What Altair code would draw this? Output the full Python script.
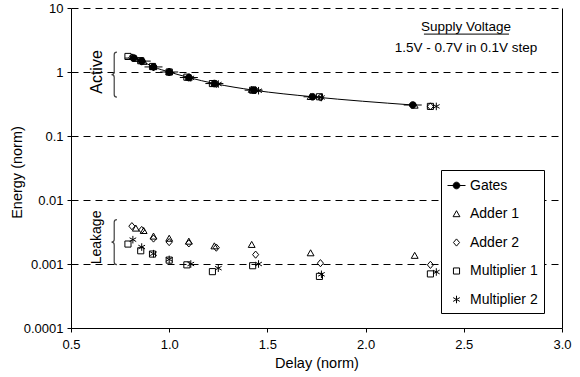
import altair as alt
import pandas as pd

FONT = "Liberation Sans"

series_names = ["Gates", "Adder 1", "Adder 2", "Multiplier 1", "Multiplier 2"]

gates_delay = [0.82, 0.86, 0.92, 1.00, 1.10, 1.23, 1.43, 1.73, 2.24]
gates_active = [1.65, 1.48, 1.20, 1.00, 0.82, 0.66, 0.52, 0.41, 0.305]

adder1_delay = [0.83, 0.87, 0.92, 1.00, 1.10, 1.23, 1.42, 1.72, 2.25]
adder1_active = [1.62, 1.45, 1.20, 1.00, 0.82, 0.66, 0.53, 0.41, 0.30]
adder1_leak = [0.0036, 0.0033, 0.0027, 0.0025, 0.00225, 0.0019, 0.0020, 0.00148, 0.00135]

adder2_delay = [0.81, 0.86, 0.92, 1.00, 1.10, 1.24, 1.44, 1.77, 2.33]
adder2_active = [1.68, 1.47, 1.20, 1.00, 0.82, 0.65, 0.52, 0.40, 0.29]
adder2_leak = [0.0039, 0.0034, 0.0025, 0.0022, 0.0021, 0.0018, 0.0014, 0.00103, 0.00097]

mult1_delay = [0.79, 0.855, 0.915, 1.00, 1.09, 1.22, 1.425, 1.765, 2.33]
mult1_active = [1.75, 1.50, 1.22, 1.00, 0.83, 0.66, 0.52, 0.41, 0.29]
mult1_leak = [0.00205, 0.00161, 0.00143, 0.00115, 0.00097, 0.00076, 0.00094, 0.00064, 0.00070]

mult2_delay = [0.815, 0.86, 0.92, 1.00, 1.11, 1.25, 1.455, 1.775, 2.36]
mult2_active = [1.68, 1.46, 1.19, 1.00, 0.81, 0.65, 0.51, 0.40, 0.29]
mult2_leak = [0.0024, 0.00184, 0.00145, 0.00118, 0.0010, 0.00086, 0.00100, 0.00069, 0.00075]

x_ticks = [0.5, 1.0, 1.5, 2.0, 2.5, 3.0]
y_ticks = [0.0001, 0.001, 0.01, 0.1, 1, 10]

# annotation texts
active_label = ["Active"]
leakage_label = ["Leakage"]
header_lines = ["Supply Voltage", "1.5V - 0.7V in 0.1V step"]

rows = []


def add(name, delays, active, leak=None):
    for i, d in enumerate(delays):
        rows.append({"series": name, "delay": d, "energy": active[i], "kind": "active"})
        if leak is not None:
            rows.append({"series": name, "delay": d, "energy": leak[i], "kind": "leakage"})


add("Gates", gates_delay, gates_active)
add("Adder 1", adder1_delay, adder1_active, adder1_leak)
add("Adder 2", adder2_delay, adder2_active, adder2_leak)
add("Multiplier 1", mult1_delay, mult1_active, mult1_leak)
add("Multiplier 2", mult2_delay, mult2_active, mult2_leak)
df = pd.DataFrame(rows)
gates_df = df[df["series"] == "Gates"]

shape_paths = [
    "M-1,0L1,0M0.37,0A0.37,0.37 0 1,1 -0.37,0A0.37,0.37 0 1,1 0.37,0Z",
    "M0,-0.37L0.38,0.3L-0.38,0.3Z",
    "M0,-0.4L0.34,0L0,0.4L-0.34,0Z",
    "M-0.34,-0.34L0.34,-0.34L0.34,0.34L-0.34,0.34Z",
    "M0,-0.42L0,0.42M-0.37,-0.21L0.37,0.21M-0.37,0.21L0.37,-0.21",
]
fill_colors = ["black", "transparent", "transparent", "transparent", "transparent"]
stroke_colors = ["black"] * 5

brace_path = "M0.12,-1Q0,-1 0,-0.88L0,-0.12Q0,0 -0.12,0Q0,0 0,0.12L0,0.88Q0,1 0.12,1"

brace_df = pd.DataFrame({"delay": [0.72, 0.72], "energy": [0.91, 0.0022]})
active_df = pd.DataFrame({"delay": [0.632], "energy": [1.0], "label": active_label})
leakage_df = pd.DataFrame({"delay": [0.632], "energy": [0.0026], "label": leakage_label})
header_df = pd.DataFrame({"delay": [2.511, 2.511], "energy": [5.04, 2.36], "label": header_lines})
underline_df = pd.DataFrame({"delay": [2.297], "delay2": [2.730], "energy": [3.91]})

x_scale = alt.Scale(domain=[0.5, 3.0], nice=False, zero=False)
y_scale = alt.Scale(type="log", domain=[0.0001, 10], nice=False)

x_axis = alt.Axis(
    values=x_ticks, format=".1f", title="Delay (norm)", grid=False,
    tickSize=4, tickColor="black", domainColor="black", labelColor="black",
    labelFont=FONT, labelFontSize=13, titleFont=FONT, titleFontSize=14.5,
    titleFontWeight="normal", titleColor="black", labelPadding=6, titlePadding=5,
    labelFlush=False,
)
x_enc = alt.X("delay:Q", scale=x_scale, axis=x_axis)

y_axis_left = alt.Axis(
    values=y_ticks, format="~g", title="Energy (norm)", grid=True,
    gridDash=[7, 5], gridColor="black", gridOpacity=1, gridWidth=1,
    tickSize=4, tickColor="black", domainColor="black", labelColor="black",
    labelFont=FONT, labelFontSize=13, titleFont=FONT, titleFontSize=14.5,
    titleFontWeight="normal", titleColor="black", labelPadding=4,
    titleX=-54, titleY=164, titleBaseline="middle", titleAlign="center", titleAngle=270,
    labelFlush=False,
)

line = alt.Chart(gates_df).mark_line(color="black", strokeWidth=1, interpolate="monotone").encode(
    x=x_enc, y=alt.Y("energy:Q", scale=y_scale, axis=None)
)

legend = alt.Legend(
    title=None, orient="none", legendX=370, legendY=162, padding=6,
    strokeColor="black", fillColor="white", labelFont=FONT, labelFontSize=14,
    labelColor="black", symbolSize=324, symbolStrokeWidth=1,
    rowPadding=11.5, labelOffset=4,
)

points = alt.Chart(df).mark_point(size=324, strokeWidth=1, opacity=1).encode(
    x=x_enc,
    y=alt.Y("energy:Q", scale=y_scale, axis=y_axis_left),
    shape=alt.Shape("series:N", scale=alt.Scale(domain=series_names, range=shape_paths), legend=legend),
    fill=alt.Fill("series:N", scale=alt.Scale(domain=series_names, range=fill_colors), legend=legend),
    stroke=alt.Stroke("series:N", scale=alt.Scale(domain=series_names, range=stroke_colors), legend=legend),
)

braces = alt.Chart(brace_df).mark_point(
    shape=brace_path, size=2025, stroke="#404040", strokeWidth=1.2, fill="transparent", opacity=1
).encode(
    x=x_enc,
    y=alt.Y("energy:Q", scale=y_scale, axis=alt.Axis(
        orient="right", labels=False, ticks=False, grid=False, title=None,
        domain=True, domainColor="black")),
)

active_text = alt.Chart(active_df).mark_text(
    angle=270, font=FONT, fontSize=16, color="black", baseline="middle", align="center"
).encode(x=x_enc, y=alt.Y("energy:Q", scale=y_scale, axis=None), text="label:N")

leakage_text = alt.Chart(leakage_df).mark_text(
    angle=270, font=FONT, fontSize=14, color="black", baseline="middle", align="center"
).encode(x=x_enc, y=alt.Y("energy:Q", scale=y_scale, axis=None), text="label:N")

header = alt.Chart(header_df).mark_text(
    font=FONT, fontSize=13.5, color="black", baseline="middle", align="center"
).encode(x=x_enc, y=alt.Y("energy:Q", scale=y_scale, axis=None), text="label:N")

underline = alt.Chart(underline_df).mark_rule(color="black", strokeWidth=1).encode(
    x=x_enc, x2="delay2:Q", y=alt.Y("energy:Q", scale=y_scale, axis=None)
)

chart = alt.layer(line, points, braces, active_text, leakage_text, header, underline).resolve_axis(
    y="independent"
).properties(
    width=491, height=320,
    autosize=alt.AutoSizeParams(type="none"),
    padding={"left": 71, "top": 8, "right": 18, "bottom": 49},
    background="white",
).configure_view(stroke=None)

chart.save("out.html", embed_options={"renderer": "svg", "actions": False})
